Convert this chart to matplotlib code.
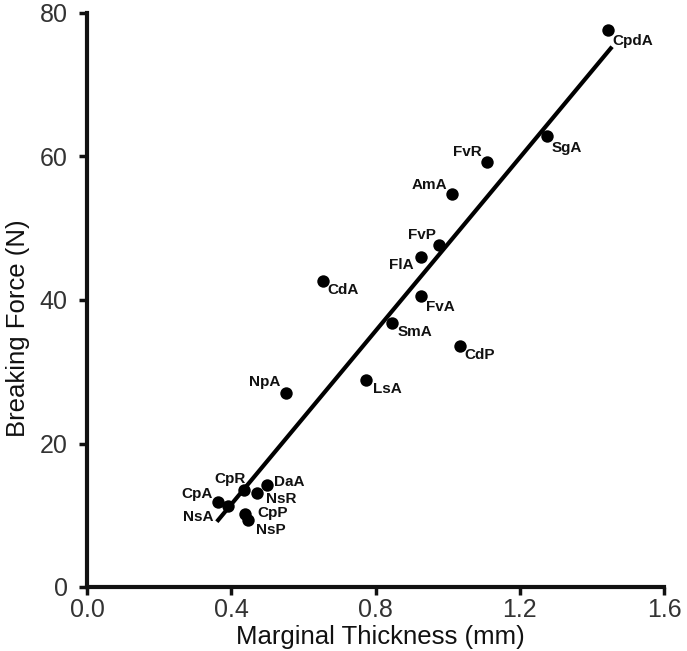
import matplotlib
matplotlib.use("Agg")
import matplotlib.pyplot as plt

# ---- data ----
species = ["CpdA", "SgA", "FvR", "AmA", "FvP", "FlA", "CdA", "FvA", "SmA", "CdP",
           "LsA", "NpA", "CpR", "DaA", "NsR", "CpA", "NsA", "CpP", "NsP"]
thickness = [1.444, 1.275, 1.108, 1.011, 0.975, 0.925, 0.655, 0.925, 0.847, 1.033,
             0.775, 0.553, 0.436, 0.500, 0.472, 0.364, 0.392, 0.439, 0.447]
force = [77.7, 62.8, 59.2, 54.8, 47.7, 46.0, 42.7, 40.5, 36.8, 33.6,
         28.8, 27.1, 13.5, 14.2, 13.1, 11.9, 11.3, 10.2, 9.3]
fit_x = [0.360, 1.456]
fit_y = [9.1, 75.3]
xticks = [0.0, 0.4, 0.8, 1.2, 1.6]
xticklabels = ["0.0", "0.4", "0.8", "1.2", "1.6"]
yticks = [0, 20, 40, 60, 80]
yticklabels = ["0", "20", "40", "60", "80"]

# label offsets in pixels (dx, dy, ha, va)
offsets = {
    "CpdA": (5, -4, "left", "top"),
    "SgA": (5, -5, "left", "top"),
    "FvR": (-5, 3, "right", "bottom"),
    "AmA": (-4, 2, "right", "bottom"),
    "FvP": (-3, 3, "right", "bottom"),
    "FlA": (-7, -1, "right", "top"),
    "CdA": (4, -2, "left", "top"),
    "FvA": (5, -4, "left", "top"),
    "SmA": (5, -2, "left", "top"),
    "CdP": (5, -2, "left", "top"),
    "LsA": (7, -2, "left", "top"),
    "NpA": (-6, 4, "right", "bottom"),
    "CpR": (2, 4, "right", "bottom"),
    "DaA": (7, 3, "left", "center"),
    "NsR": (9, -6, "left", "center"),
    "CpA": (-6, 1, "right", "bottom"),
    "NsA": (-15, -11, "right", "center"),
    "CpP": (12, 1, "left", "center"),
    "NsP": (8, -10, "left", "center"),
}

plt.rcParams['font.family'] = ['Liberation Sans', 'DejaVu Sans']

fig = plt.figure(figsize=(6.87, 6.51), dpi=100)
fig.patch.set_facecolor("white")
W, H = 687, 651
ax = fig.add_axes([87 / W, 1 - 587 / H, (664 - 87) / W, (587 - 13) / H])

ax.plot(fit_x, fit_y, color="black", lw=3.0, solid_capstyle="butt", zorder=2)
ax.scatter(thickness, force, s=80, color="black", zorder=3, linewidths=0)

for name, x, y in zip(species, thickness, force):
    dx, dy, ha, va = offsets[name]
    ax.annotate(name, (x, y), xytext=(dx * 0.72, dy * 0.72), textcoords="offset points",
                ha=ha, va=va, fontsize=11, fontweight="bold", color="#111111")

ax.set_xlim(0, 1.6)
ax.set_ylim(0, 80)
ax.set_xticks(xticks)
ax.set_xticklabels(xticklabels)
ax.set_yticks(yticks)
ax.set_yticklabels(yticklabels)

for s in ["top", "right"]:
    ax.spines[s].set_visible(False)
for s in ["left", "bottom"]:
    ax.spines[s].set_linewidth(3.0)
    ax.spines[s].set_color("#111111")

ax.tick_params(axis="both", direction="out", length=6, width=2.5, color="#111111",
               labelsize=18, labelcolor="#333333")
ax.tick_params(axis="x", pad=2)
ax.tick_params(axis="y", pad=8)

ax.set_xlabel("Marginal Thickness (mm)", fontsize=18.5, color="#111111")
ax.set_ylabel("Breaking Force (N)", fontsize=18.5, color="#111111")
ax.xaxis.set_label_coords((380 - 87) / 577, (587 - 625) / 574)
ax.yaxis.set_label_coords((30 - 87) / 577, (587 - 328) / 574)

fig.savefig("out.png", dpi=100, facecolor="white")
